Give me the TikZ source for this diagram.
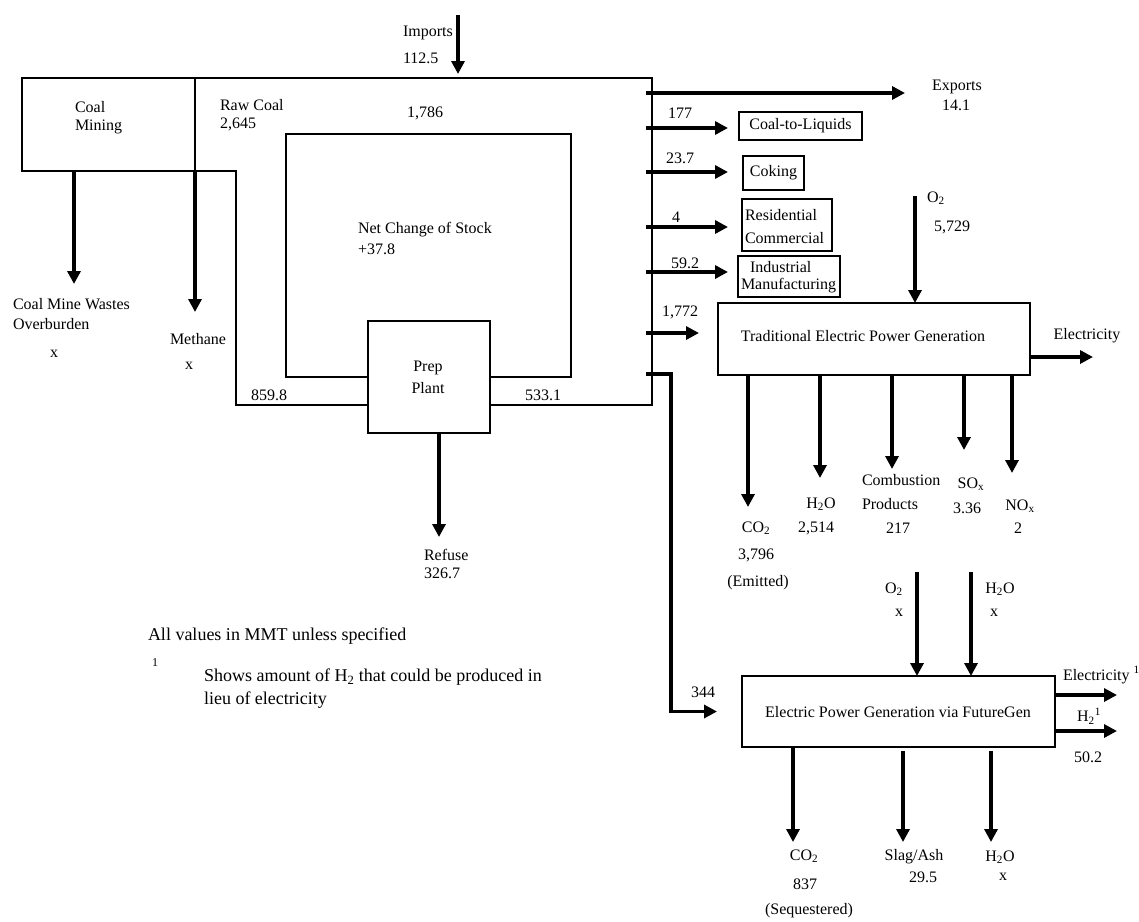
\documentclass[tikz,border=0pt]{standalone}
\usepackage{fontspec}
\setmainfont{Liberation Serif}
\usetikzlibrary{arrows.meta}
\begin{document}
\begin{tikzpicture}[x=1pt,y=-1pt,
  thinln/.style={line width=1.3pt},
  flow/.style={line width=3.6pt,-{Triangle[length=13pt,width=13pt]}},
  box/.style={draw,line width=1.3pt,inner sep=0pt,outer sep=0pt,anchor=north west},
  lbl/.style={inner sep=0pt,outer sep=0pt,font=\fontsize{16}{18}\selectfont},
  lw/.style={lbl,anchor=west},
  note/.style={inner sep=0pt,outer sep=0pt,anchor=west,font=\fontsize{18}{22}\selectfont},
]
\useasboundingbox (0,0) rectangle (1139,921);

% ---------- boxes ----------
\node[box,minimum width=173pt,minimum height=93pt] (mining) at (22,78) {};
\node[box,minimum width=285pt,minimum height=243pt] (stock) at (286,134) {};
\node[box,fill=white,minimum width=122pt,minimum height=112pt] (prep) at (368,321) {};
\node[box,lbl,draw,line width=1.3pt,anchor=north west,minimum width=123pt,minimum height=28pt] (ctl) at (739,112) {Coal-to-Liquids};
\node[box,lbl,draw,line width=1.3pt,anchor=north west,minimum width=61pt,minimum height=34pt] (coking) at (743,156) {Coking};
\node[box,minimum width=90pt,minimum height=52pt] (resid) at (742,199) {};
\node[box,minimum width=102pt,minimum height=41pt] (indus) at (738,256) {};
\node[box,minimum width=312pt,minimum height=72pt] (trad) at (718,303) {};
\node[box,minimum width=313pt,minimum height=71pt] (fgen) at (742,676) {};

% ---------- frame of raw-coal flow ----------
\coordinate (tr) at (652,78);
\coordinate (br) at (652,405);
\coordinate (tl) at (236,171);
\coordinate (bl) at (236,405);
\draw[thinln] (mining.north east) -- (tr) -- (br) -- (br -| prep.east);
\draw[thinln] (mining.south east) -- (tl) -- (bl) -- (bl -| prep.west);

% ---------- texts, left part ----------
\node[lw] (tImp) at (403,33) {Imports};
\node[lw] (tImpV) at (403,58) {112.5};
\node[lw] (tMin1) at (75,107) {Coal};
\node[lw] (tMin2) at (75,127) {Mining};
\node[lw] (tRaw1) at (220,105) {Raw Coal};
\node[lw] (tRaw2) at (220,124) {2,645};
\node[lbl] (t1786) at (425,113) {1,786};
\node[lw] (tStock1) at (358,230) {Net Change of Stock};
\node[lw] (tStock2) at (358,249) {+37.8};
\node[lbl] (tPrep1) at (428,368) {Prep};
\node[lbl] (tPrep2) at (428,388) {Plant};
\node[lw] (t8598) at (251,395) {859.8};
\node[lw] (t5331) at (525,395) {533.1};
\node[lw] (tWaste1) at (13,304) {Coal Mine Wastes};
\node[lw] (tWaste2) at (13,324) {Overburden};
\node[lbl] (tWaste3) at (54,354) {x};
\node[lw] (tMeth1) at (170,339) {Methane};
\node[lbl] (tMeth2) at (189,366) {x};
\node[lw] (tRef1) at (424,555) {Refuse};
\node[lw] (tRef2) at (424,573) {326.7};

% ---------- left arrows ----------
\coordinate (imp0) at (458,15);
\coordinate (imp1) at (458,74);
\draw[flow] (imp0) -- (imp1);
\coordinate (wasteEnd) at (74,284);
\draw[flow] (wasteEnd |- mining.south) -- (wasteEnd);
\coordinate (methEnd) at (195,312);
\draw[flow] (mining.south east) -- (methEnd);
\coordinate (refEnd) at (439,537);
\draw[flow] (refEnd |- prep.south) -- (refEnd);

% ---------- outgoing arrows on right side ----------
\coordinate (ex0) at (646,93);
\coordinate (ex1) at (905,93);
\draw[flow] (ex0) -- (ex1);
\node[lw] (tEx1) at (932,87) {Exports};
\node[lbl] (tEx2) at (956,105) {14.1};

\coordinate (c0) at (646,128);
\draw[flow] (c0) -- ([xshift=-11pt]c0 -| ctl.west);
\node[lbl] (t177) at (680,113) {177};

\coordinate (k0) at (646,172);
\draw[flow] (k0) -- ([xshift=-15pt]k0 -| coking.west);
\node[lbl] (t237) at (680,158) {23.7};

\coordinate (r0) at (646,227);
\draw[flow] (r0) -- ([xshift=-14pt]r0 -| resid.west);
\node[lbl] (t4) at (676,217) {4};
\node[lw] (tRes1) at (745,215) {Residential};
\node[lw] (tRes2) at (745,238) {Commercial};

\coordinate (i0) at (646,272);
\draw[flow] (i0) -- ([xshift=-10pt]i0 -| indus.west);
\node[lbl] (t592) at (685,263) {59.2};
\node[lw] (tInd1) at (750,267) {Industrial};
\node[lw] (tInd2) at (741,286) {Manufacturing};

\coordinate (p0) at (646,333);
\draw[flow] (p0) -- ([xshift=-19pt]p0 -| trad.west);
\node[lbl] (t1772) at (680,312) {1,772};

% ---------- traditional power ----------
\node[lbl] (tTrad) at (863,336) {Traditional Electric Power Generation};
\coordinate (o2a) at (915,196);
\draw[flow] (o2a) -- (o2a |- trad.north);
\node[lw] (tO2) at (927,198) {O\textsubscript{2}};
\node[lbl] (tO2v) at (952,227) {5,729};
\coordinate (elEnd) at (1093,357);
\draw[flow] (elEnd -| trad.east) -- (elEnd);
\node[lbl] (tEl) at (1087,336) {Electricity};

\coordinate (e1) at (748,507);
\coordinate (e2) at (820,478);
\coordinate (e3) at (892,469);
\coordinate (e4) at (964,450);
\coordinate (e5) at (1012,473);
\foreach \n in {1,...,5} {\draw[flow] (e\n |- trad.south) -- (e\n);}

\node[lbl] (tCO2a) at (756,528) {CO\textsubscript{2}};
\node[lbl] (tCO2b) at (756,555) {3,796};
\node[lbl] (tCO2c) at (758,583) {(Emitted)};
\node[lbl] (tH2Oa) at (821,504) {H\textsubscript{2}O};
\node[lbl] (tH2Ob) at (816,528) {2,514};
\node[lw] (tComb1) at (862,480) {Combustion};
\node[lw] (tComb2) at (862,504) {Products};
\node[lbl] (tComb3) at (898,528) {217};
\node[lbl] (tSOx1) at (971,484) {SO\textsubscript{x}};
\node[lbl] (tSOx2) at (967,508) {3.36};
\node[lbl] (tNOx1) at (1020,506) {NO\textsubscript{x}};
\node[lbl] (tNOx2) at (1018,528) {2};

% ---------- FutureGen ----------
\coordinate (fg0) at (646,374);
\coordinate (fgk) at (671,374);
\draw[flow] (fg0) -- (fgk) |- ([xshift=-25pt]fgen.west);
\node[lbl] (t344) at (703,692) {344};
\node[lbl] (tFG) at (898,712) {Electric Power Generation via FutureGen};

\coordinate (fo2) at (917,572);
\coordinate (fh2o) at (971,572);
\draw[flow] (fo2) -- (fo2 |- fgen.north);
\draw[flow] (fh2o) -- (fh2o |- fgen.north);
\node[lbl] (tfO2a) at (894,589) {O\textsubscript{2}};
\node[lbl] (tfO2b) at (899,613) {x};
\node[lbl] (tfH2Oa) at (1000,589) {H\textsubscript{2}O};
\node[lbl] (tfH2Ob) at (994,613) {x};

\coordinate (fel) at (1117,695);
\coordinate (fh2) at (1117,731);
\draw[flow] (fel -| fgen.east) -- (fel);
\draw[flow] (fh2 -| fgen.east) -- (fh2);
\node[lw] (tfEl) at (1063,675) {Electricity \textsuperscript{1}};
\node[lbl] (tfH2) at (1089,716) {H\textsubscript{2}\textsuperscript{1}};
\node[lbl] (tfH2v) at (1088,757) {50.2};

\coordinate (fc1) at (793,842);
\coordinate (fc2) at (903,842);
\coordinate (fc3) at (991,842);
\draw[flow] (fc1 |- fgen.south) -- (fc1);
\draw[flow] ([yshift=-4pt]fc2 |- fgen.south) -- (fc2);
\draw[flow] ([yshift=-4pt]fc3 |- fgen.south) -- (fc3);
\node[lbl] (tfCO2a) at (804,856) {CO\textsubscript{2}};
\node[lbl] (tfCO2b) at (805,884) {837};
\node[lbl] (tfCO2c) at (809,911) {(Sequestered)};
\node[lbl] (tfSlag1) at (914,857) {Slag/Ash};
\node[lbl] (tfSlag2) at (923,877) {29.5};
\node[lbl] (tfH2O1) at (1000,857) {H\textsubscript{2}O};
\node[lbl] (tfH2O2) at (1003,877) {x};

% ---------- notes ----------
\node[note] (nAll) at (148,636) {All values in MMT unless specified};
\node[inner sep=0pt,anchor=west,font=\fontsize{12}{14}\selectfont] (nOne) at (152,663) {1};
\node[note] (nShow1) at (204,677) {Shows amount of H\textsubscript{2} that could be produced in};
\node[note] (nShow2) at (204,700) {lieu of electricity};
\end{tikzpicture}
\end{document}
